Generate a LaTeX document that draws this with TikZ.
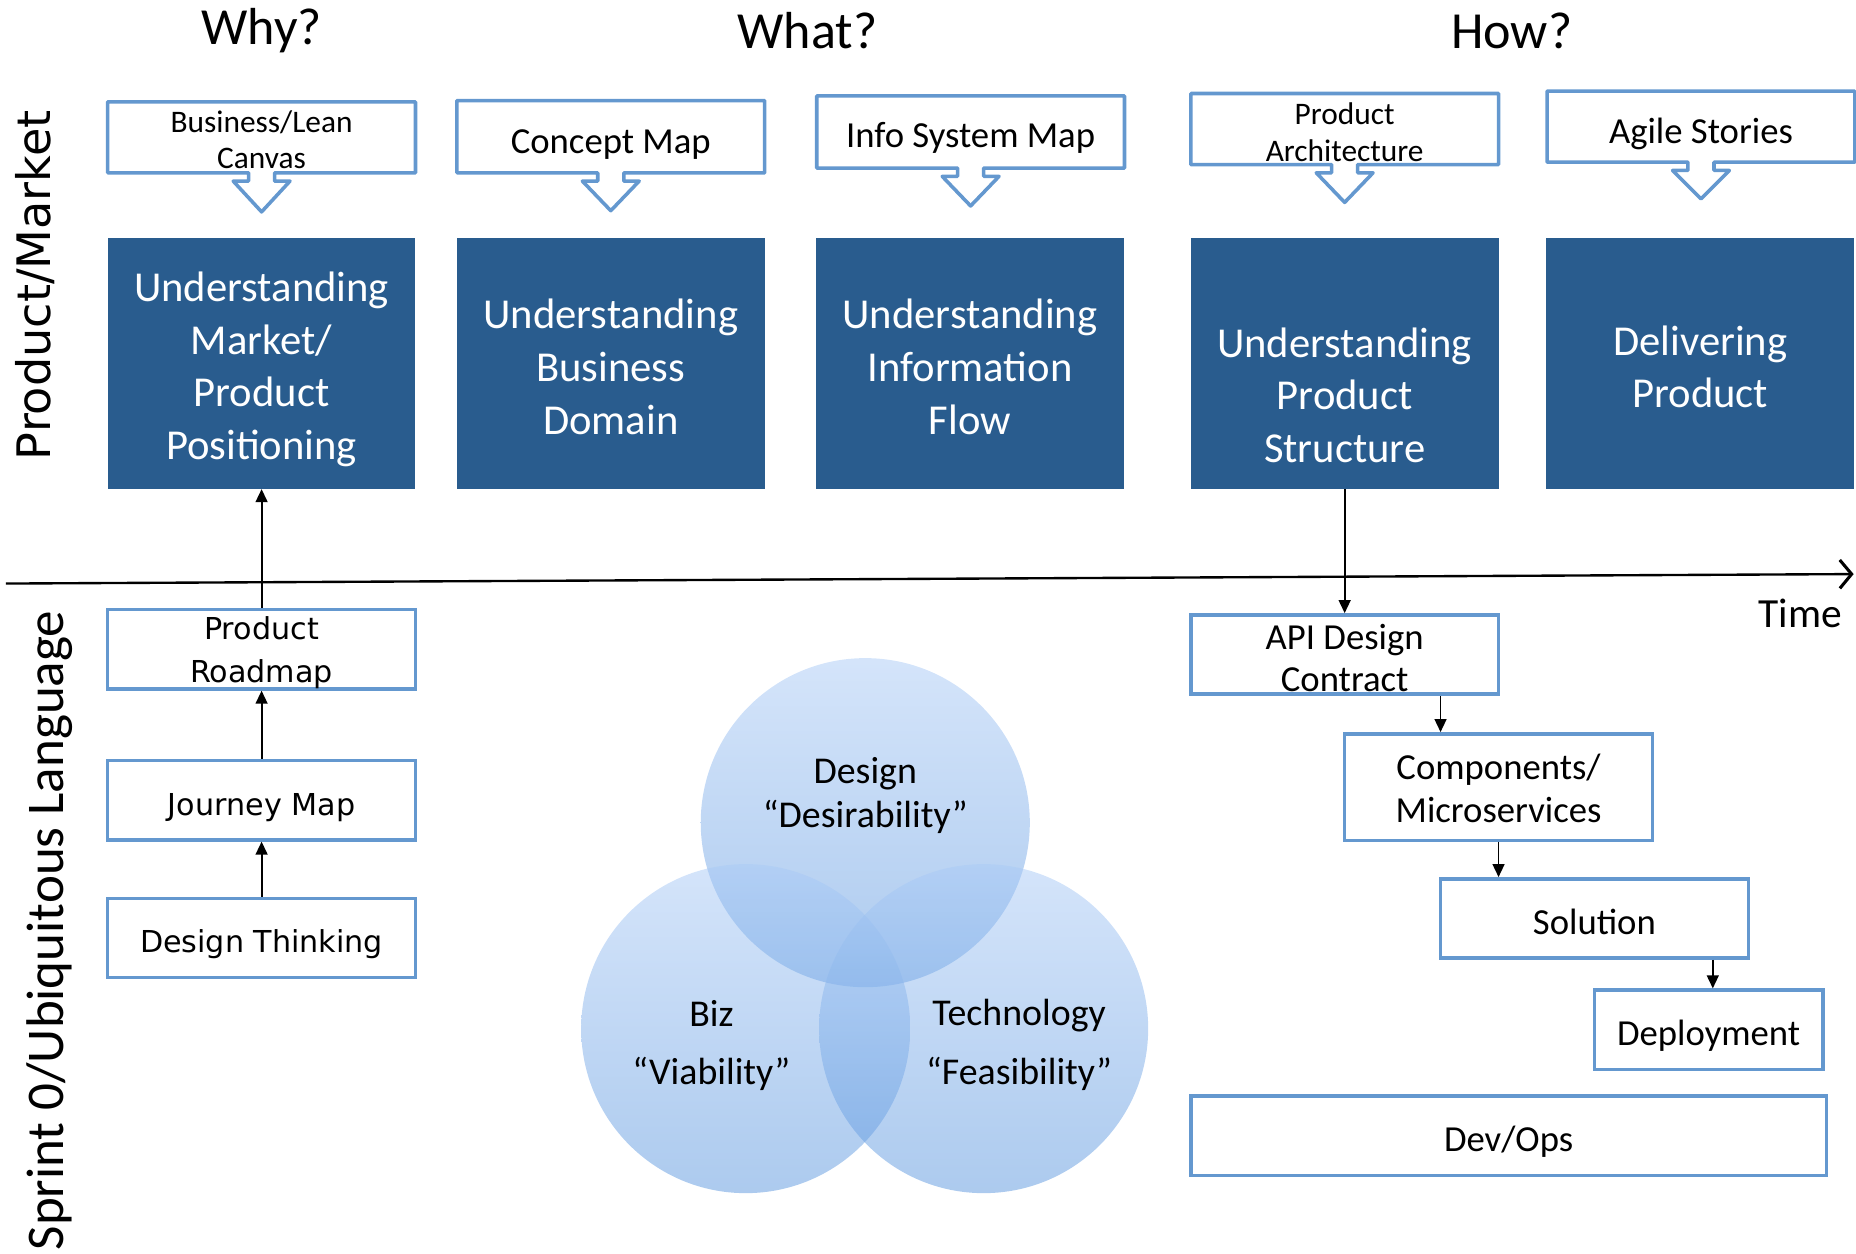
\documentclass[tikz,border=0pt]{standalone}
\usepackage{fontspec}
\setmainfont{Carlito}
\newfontfamily\verd{DejaVu Sans}
\usetikzlibrary{arrows.meta,calc}
\definecolor{dblue}{RGB}{41,92,142}
\definecolor{lblue}{RGB}{100,152,207}
\definecolor{vtop}{RGB}{170,202,246}
\definecolor{vbot}{RGB}{90,150,222}
\newcommand\mycallout[4]{%
  \draw[calloutline] ({#1-130},#2) -- ({#1+130},#2) -- ({#1+130},#3) -- ({#1+11},#3)
    -- ({#1+11},{#3+7}) -- ({#1+24},{#3+7}) -- (#1,#4) -- ({#1-24},{#3+7})
    -- ({#1-11},{#3+7}) -- ({#1-11},#3) -- ({#1-130},#3) -- cycle;}
\begin{document}
\begin{tikzpicture}[x=1pt,y=-1pt,
  calloutline/.style={draw=lblue, line width=3pt, fill=white, line join=round},
  calltxt/.style={font=\fontsize{31}{36}\selectfont, align=center, inner sep=0pt},
  calltxtsm/.style={font=\fontsize{26.5}{31}\selectfont, align=center, inner sep=0pt},
  darkbox/.style={fill=dblue, minimum width=260pt, minimum height=212pt, inner sep=0pt},
  darktxt/.style={text=white, font=\fontsize{36}{44.5}\selectfont, align=center, inner sep=0pt},
  obox/.style={draw=lblue, line width=3pt, fill=white, minimum height=67pt, minimum width=260pt, inner sep=0pt},
  vtxt/.style={font=\verd\fontsize{25.5}{36}\selectfont, align=center, inner sep=0pt},
  ctxt/.style={font=\fontsize{31}{36}\selectfont, align=center, inner sep=0pt},
  title/.style={font=\fontsize{44}{50}\selectfont, inner sep=0pt},
  conn/.style={line width=1.6pt, -{Triangle[length=11pt,width=10pt]}},
  vcirc/.style={circle, minimum size=278pt, inner sep=0pt, top color=vtop, bottom color=vbot, fill opacity=0.5, draw=none},
  vlab/.style={font=\fontsize{32}{36}\selectfont, inner sep=0pt}
]
\useasboundingbox (0,0) rectangle (1568,1059);

% titles
\node[title] (why) at (221,26) {Why?};
\node[title] (what) at (682,26) {What?};
\node[title] (how) at (1277,26) {How?};

% side labels
\node[rotate=90, font=\verd\fontsize{39}{44}\selectfont, inner sep=0pt] (pm) at (30,241) {Product/Market};
\node[rotate=90, font=\fontsize{44.8}{50}\selectfont, inner sep=0pt] (sp) at (42,786) {Sprint 0/Ubiquitous Language};

% callouts
\mycallout{221}{86}{146}{179}
\mycallout{516}{85}{146}{178}
\mycallout{820}{81}{142}{174}
\mycallout{1136}{79}{139}{171}
\mycallout{1437}{77}{137}{168}
\node[calltxtsm] (c1) at (221,118) {Business/Lean\\Canvas};
\node[calltxt] (c2) at (516,122) {Concept Map};
\node[calltxt] (c3) at (820,116.5) {Info System Map};
\node[calltxtsm] (c4) at (1136,112) {Product\\Architecture};
\node[calltxt] (c5) at (1437,113) {Agile Stories};

% dark boxes
\node[darkbox] (u1) at (221,307) {};
\node[darkbox] (u2) at (516,307) {};
\node[darkbox] (u3) at (819.5,307) {};
\node[darkbox] (u4) at (1136,307) {};
\node[darkbox] (u5) at (1436.5,307) {};
\node[darktxt] (u1t) at (221,312) {Understanding\\Market/\\Product\\Positioning};
\node[darktxt] (u2t) at (516,310) {Understanding\\Business\\Domain};
\node[darktxt] (u3t) at (819.5,310) {Understanding\\Information\\Flow};
\node[darktxt] (u4t) at (1136,334) {Understanding\\Product\\Structure};
\node[darktxt] (u5t) at (1436.5,310) {Delivering\\Product};

% time axis
\coordinate (axL) at (5,493);
\coordinate (axR) at (1566,485);
\draw[line width=2pt, -{Straight Barb[length=10pt,width=24pt,line width=2.6pt]}] (axL) -- (axR);
\node[font=\fontsize{35}{40}\selectfont, inner sep=0pt] (time) at (1521,518) {Time};

% left bottom chain
\node[obox] (pr) at (221,548.5) {};
\node[obox] (jm) at (221,676) {};
\node[obox] (dt) at (221,792.5) {};
\node[vtxt] (prt) at (221,551.5) {Product\\Roadmap};
\node[vtxt] (jmt) at (221,682) {Journey Map};
\node[vtxt] (dtt) at (221,797.5) {Design Thinking};
\draw[conn] (dt.north) -- (jm.south);
\draw[conn] (jm.north) -- (pr.south);
\draw[conn] (pr.north) -- (u1.south);

% right bottom chain
\node[obox] (api) at (1136,553) {};
\node[obox, minimum height=90pt] (comp) at (1266,665) {};
\node[obox] (sol) at (1347,776) {};
\node[obox, minimum width=193pt] (dep) at (1443.5,870) {};
\node[obox, minimum width=537pt] (devops) at (1274.5,959.5) {};
\node[ctxt] (apit) at (1136,556) {API Design\\Contract};
\node[ctxt] (compt) at (1266,666) {Components/\\Microservices};
\node[ctxt] (solt) at (1347,779) {Solution};
\node[ctxt] (dept) at (1443.5,875) {Deployment};
\node[ctxt] (devopst) at (1274.5,964.5) {Dev/Ops};
\coordinate (xa) at (1217,0);
\coordinate (xb) at (1447,0);
\draw[conn] (u4.south) -- (api.north);
\draw[conn] (api.south -| xa) -- (comp.north -| xa);
\draw[conn] (comp.south) -- (sol.north -| comp.south);
\draw[conn] (sol.south -| xb) -- (dep.north -| xb);

% venn
\node[vcirc] (vd) at (731,695) {};
\node[vcirc] (vb) at (630,869) {};
\node[vcirc] (vt) at (831,869) {};
\node[vlab] (vd1) at (731,654) {Design};
\node[vlab] (vd2) at (731,690) {“Desirability”};
\node[vlab] (vb1) at (601,856) {Biz};
\node[vlab] (vb2) at (601,907) {“Viability”};
\node[vlab] (vt1) at (861,858) {Technology};
\node[vlab] (vt2) at (861,907) {“Feasibility”};
\end{tikzpicture}
\end{document}
